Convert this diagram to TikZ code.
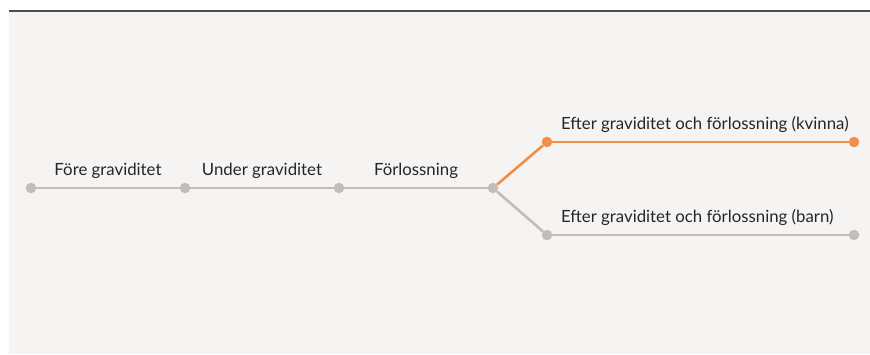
\documentclass[tikz,border=0pt]{standalone}
\usepackage{fontspec}
\setmainfont{Lato}
\usetikzlibrary{positioning}
\definecolor{bgpaper}{HTML}{F5F4F2}
\definecolor{rulegray}{HTML}{4D4D4D}
\definecolor{stagegray}{HTML}{C3BCB8}
\definecolor{stageorange}{HTML}{F28E4C}
\tikzset{
    x=1pt, y=-1pt,
    dot/.style={circle, fill=stagegray, inner sep=0pt, minimum size=10.5pt}, % the stage markers
    hot/.style={fill=stageorange}, % highlighted branch
    link/.style={draw=stagegray, line width=2.6pt}, % gray connecting line
    labelfont/.style={font=\fontsize{16.8}{19}\selectfont, text=black!85},
    label/.style={above=5pt, midway, labelfont},
    branchlabel/.style={pos=0, anchor=south west, xshift=4pt, yshift=5pt, labelfont},
}
\begin{document}
\begin{tikzpicture}
    \useasboundingbox (0,0) rectangle (870,354);
    \fill[bgpaper] (9,10) rectangle (870,354);
    \draw[rulegray, line width=1.6pt] (9,10.8) -- (870,10.8);
    % stages
    \node[dot] (fore) at (31,188) {};
    \node[dot] (under) at (185,188) {};
    \node[dot] (forl) at (339,188) {};
    \node[dot] (split) at (493,188) {};
    \node[dot, hot] (kv1) at (547,142) {};
    \node[dot, hot] (kv2) at (854,142) {};
    \node[dot] (ba1) at (547,235) {};
    \node[dot] (ba2) at (854,235) {};
    \draw[link] (fore) -- node[label]{Före graviditet} (under);
    \draw[link] (under) -- node[label]{Under graviditet} (forl);
    \draw[link] (forl) -- node[label]{Förlossning} (split);
    \draw[link, draw=stageorange] (split) -- (kv1);
    \draw[link, draw=stageorange] (kv1) -- node[branchlabel]{Efter graviditet och förlossning (kvinna)} (kv2);
    \draw[link] (split) -- (ba1);
    \draw[link] (ba1) -- node[branchlabel]{Efter graviditet och förlossning (barn)} (ba2);
\end{tikzpicture}
\end{document}
